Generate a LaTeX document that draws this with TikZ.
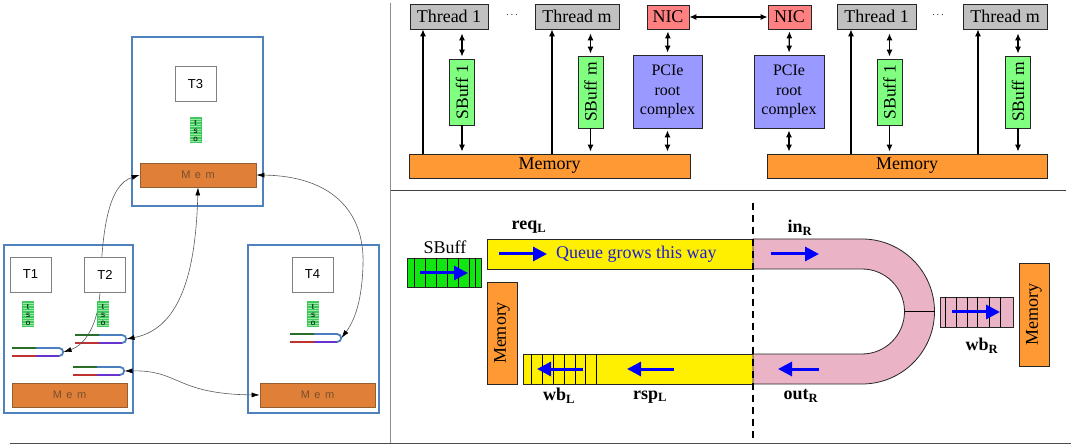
\documentclass[tikz,border=0pt]{standalone}
\usepackage{fontspec}
\setmainfont{Liberation Serif}
\newfontfamily\lsans{Liberation Sans}
\usetikzlibrary{arrows.meta}

% palette
\definecolor{thgray}{RGB}{192,192,192}
\definecolor{nicred}{RGB}{255,128,128}
\definecolor{pciblue}{RGB}{153,153,255}
\definecolor{sbgreen}{RGB}{128,255,128}
\definecolor{memorange}{RGB}{255,153,51}
\definecolor{qyellow}{RGB}{255,240,0}
\definecolor{qpink}{RGB}{234,179,198}
\definecolor{sbbright}{RGB}{17,230,17}
\definecolor{qblue}{RGB}{0,0,255}
\definecolor{qtext}{RGB}{30,30,215}
\definecolor{cpuframe}{RGB}{79,129,189}
\definecolor{tbox}{RGB}{128,128,128}
\definecolor{memfill}{RGB}{224,128,56}
\definecolor{memedge}{RGB}{150,95,50}
\definecolor{memtext}{RGB}{120,78,45}
\definecolor{tsogreen}{RGB}{64,200,96}
\definecolor{tsostripe}{RGB}{150,235,160}
\definecolor{ugreen}{RGB}{40,110,40}
\definecolor{ured}{RGB}{190,50,50}
\definecolor{ublue}{RGB}{74,126,192}
\definecolor{upurple}{RGB}{102,51,204}
\definecolor{wire}{RGB}{90,90,90}

\tikzset{
  box/.style={draw=black!85, line width=0.8pt, inner sep=0pt, font=\fontsize{18}{21}\selectfont},
  thread/.style={box, fill=thgray, minimum height=25pt},
  nic/.style={box, fill=nicred, minimum height=24pt, minimum width=42pt},
  pcie/.style={box, fill=pciblue, minimum width=69pt, minimum height=73pt, align=center, font=\fontsize{16}{19.5}\selectfont},
  sbuf/.style={box, fill=sbgreen, minimum width=25pt, font=\fontsize{17.5}{20}\selectfont},
  mem/.style={box, fill=memorange, minimum height=24pt},
  vmem/.style={box, fill=memorange, minimum width=30pt},
  arr/.style={line width=1.2pt, -{Latex[length=7pt,width=6pt]}},
  darr/.style={line width=1.2pt, {Latex[length=7pt,width=6pt]}-{Latex[length=7pt,width=6pt]}},
  qarrow/.style={qblue, line width=3pt, -{Triangle[length=14pt,width=14pt]}},
  qbar/.style={draw=black!85, line width=0.8pt},
  qlabel/.style={font=\fontsize{18}{21}\selectfont\bfseries, inner sep=0pt},
  cpu/.style={draw=cpuframe, line width=1.5pt},
  tcore/.style={draw=tbox, fill=white, line width=0.8pt, minimum width=41pt, minimum height=35pt, inner sep=0pt, font=\lsans\fontsize{13}{15}\selectfont},
  lmem/.style={draw=memedge, fill=memfill, line width=0.8pt, minimum height=24pt, inner sep=0pt, text=memtext, font=\lsans\fontsize{11}{12}\selectfont},
  link/.style={wire, line width=0.6pt, {Latex[length=8pt,width=5pt,color=black]}-{Latex[length=8pt,width=5pt,color=black]}},
  tsoletter/.style={font=\lsans\fontsize{8}{9}\selectfont, inner sep=0pt},
  ubuf/.pic={
    \draw[ugreen, line width=1.8pt] (0,0) -- (24,0);
    \draw[ured, line width=1.8pt] (0,8) -- (24,8);
    \draw[upurple, line width=1.8pt] (24,8) -- (47,8);
    \draw[ublue, line width=1.8pt] (24,0) -- (47,0) .. controls (52.5,0) and (52.5,8) .. (47,8);
    \coordinate (-tip) at (51.5,4);
  },
  tso/.pic={
    \fill[tsogreen] (0,0) rectangle (12,26);
    \foreach \s in {2,4.5,...,24.5} \draw[tsostripe, line width=0.4pt] (0.5,\s) -- (11.5,\s);
    \node[tsoletter] at (6,5.5) {t};
    \node[tsoletter] at (6,14) {s};
    \node[tsoletter] at (6,22.5) {o};
  }
}
\newcommand{\memword}{M\hspace{4.5pt}e\hspace{4.5pt}m}

\begin{document}
\begin{tikzpicture}[x=1pt, y=-1pt]
\useasboundingbox (0,0) rectangle (1071,446);

% ---------- panel separators ----------
\draw[gray!90, line width=1.2pt] (390.5,3) -- (390.5,444);
\draw[black!75, line width=1pt] (390.5,190.5) -- (1066,190.5);
\draw[black!70, line width=1.6pt] (10,443.5) -- (1071,443.5);

% ---------- left: cores, store buffers and memories ----------
\draw[cpu] (132,37) rectangle (263,206);
\draw[cpu] (4,245) rectangle (133,413);
\draw[cpu] (248,245) rectangle (379,413);

\node[lmem, minimum width=116pt] (m3) at (198,175) {\memword};
\node[lmem, minimum width=115pt] (m12) at (69.5,395) {\memword};
\node[lmem, minimum width=115pt] (m4) at (317.5,395) {\memword};

\pic (u2) at (75,335) {ubuf};
\pic (u1) at (12,348) {ubuf};
\pic (u0) at (73,367) {ubuf};
\pic (u4) at (290,334) {ubuf};

% links between buffers and memories
\draw[link] (u1-tip) .. controls (85,345) and (98,325) .. (100,292)
                     .. controls (102,230) and (108,185) .. (m3.west);
\draw[link] (u2-tip) .. controls (185,328) and (196,260) .. (m3.south);
\draw[link] (u4-tip) .. controls (355,320) and (362,300) .. (363,265)
                     .. controls (365,210) and (330,176) .. (m3.east);
\draw[link] (u0-tip) .. controls (180,370) and (175,394) .. (m4.west);

\node[tcore] (t3) at (195.5,84) {T3};
\node[tcore] (t1) at (30.5,274.5) {T1};
\node[tcore] (t2) at (105,274.5) {T2};
\node[tcore] (t4) at (312.5,274.5) {T4};

\pic at (189.5,117) {tso};
\pic at (22,301) {tso};
\pic at (97,301) {tso};
\pic at (307,301) {tso};

% ---------- top right: two hosts linked through their NICs ----------
\node[thread, minimum width=78pt] (thL1) at (449,16.5) {Thread 1};
\node[font=\fontsize{10}{12}\selectfont] (dotsL) at (512,15) {$\cdots$};
\node[thread, minimum width=84pt] (thLm) at (577,16.5) {Thread m};
\node[nic] (nicL) at (668,17) {NIC};
\node[nic, minimum width=43pt] (nicR) at (789.5,17) {NIC};
\node[thread, minimum width=79pt] (thR1) at (876.5,16.5) {Thread 1};
\node[font=\fontsize{10}{12}\selectfont] (dotsR) at (938,15) {$\cdots$};
\node[thread, minimum width=84pt] (thRm) at (1005,16.5) {Thread m};

\node[sbuf, minimum height=66pt] (sbL1) at (462,92) {\rotatebox{90}{SBuff 1}};
\node[sbuf, minimum height=72pt] (sbLm) at (590.5,92) {\rotatebox{90}{SBuff m}};
\node[sbuf, minimum height=66pt] (sbR1) at (889.5,92) {\rotatebox{90}{SBuff 1}};
\node[sbuf, minimum height=72pt] (sbRm) at (1018,92) {\rotatebox{90}{SBuff m}};

\node[pcie] (pcieL) at (667.5,91.5) {PCIe\\root\\complex};
\node[pcie, minimum width=70pt] (pcieR) at (789,91.5) {PCIe\\root\\complex};

\node[mem, minimum width=281pt] (memL) at (549.5,166) {Memory};
\node[mem, minimum width=280pt] (memR) at (907,166) {Memory};

\coordinate (ta1) at (423,0);
\coordinate (ta2) at (552,0);
\coordinate (ta3) at (851,0);
\coordinate (ta4) at (978,0);

\draw[arr] (memL.north -| ta1) -- (thL1.south -| ta1);
\draw[arr] (memL.north -| ta2) -- (thLm.south -| ta2);
\draw[arr] (memR.north -| ta3) -- (thR1.south -| ta3);
\draw[arr] (memR.north -| ta4) -- (thRm.south -| ta4);

\draw[darr, shorten <=4pt, shorten >=2pt] (thL1.south -| sbL1.north) -- (sbL1.north);
\draw[darr, shorten <=4pt, shorten >=2pt] (thLm.south -| sbLm.north) -- (sbLm.north);
\draw[darr, shorten <=4pt, shorten >=2pt] (thR1.south -| sbR1.north) -- (sbR1.north);
\draw[darr, shorten <=4pt, shorten >=2pt] (thRm.south -| sbRm.north) -- (sbRm.north);

\draw[arr, shorten >=2pt] (sbL1.south) -- (memL.north -| sbL1.south);
\draw[arr, shorten >=2pt] (sbLm.south) -- (memL.north -| sbLm.south);
\draw[arr, shorten >=2pt] (sbR1.south) -- (memR.north -| sbR1.south);
\draw[arr, shorten >=2pt] (sbRm.south) -- (memR.north -| sbRm.south);

\draw[darr, shorten <=2pt, shorten >=2pt] (nicL.south) -- (pcieL.north);
\draw[darr, shorten <=2pt, shorten >=2pt] (pcieL.south) -- (memL.north -| pcieL.south);
\draw[darr, shorten <=2pt, shorten >=2pt] (nicR.south) -- (pcieR.north);
\draw[darr, shorten <=2pt, shorten >=2pt] (pcieR.south) -- (memR.north -| pcieR.south);
\draw[darr] (nicL.east) -- (nicR.west);

% ---------- bottom right: queues across the link ----------
% store buffer
\node[font=\fontsize{18}{21}\selectfont, inner sep=0pt] (sbname) at (445,247) {SBuff};
\draw[qbar, fill=sbbright] (407,258) rectangle (481,287);
\foreach \x in {414,425,436,447,458,469,475} \draw[line width=0.8pt] (\x,258) -- (\x,287);
\draw[qarrow] (420,273) -- (468,273);

% local request and response queues
\draw[qbar, fill=qyellow] (487,239) rectangle (753,269);
\draw[qbar, fill=qyellow] (523,354) rectangle (753,384);
\foreach \x in {531,542,553,564,575,585,596} \draw[line width=0.8pt] (\x,354) -- (\x,384);

% remote queue bending round
\draw[qbar, fill=qpink] (753,239) -- (862,239) arc[start angle=-90, end angle=90, radius=72.5]
  -- (753,384) -- (753,354) -- (862,354) arc[start angle=90, end angle=-90, radius=42.5]
  -- (753,269) -- cycle;
\draw[line width=0.8pt] (904.5,311.5) -- (934.5,311.5);

% remote write-back buffer
\draw[qbar, fill=qpink] (940,297) rectangle (1013,327);
\foreach \x in {945,956,967,977,989,1000} \draw[line width=0.8pt] (\x,297) -- (\x,327);

\node[vmem, minimum height=102pt] (vmemL) at (502,333) {\rotatebox{90}{Memory}};
\node[vmem, minimum height=103pt] (vmemR) at (1034,314.5) {\rotatebox{90}{Memory}};

\draw[qarrow] (499,254) -- (547,254);
\node[anchor=base west, inner sep=0pt, text=qtext, font=\fontsize{18}{21}\selectfont] (grow) at (556,259) {Queue grows this way};
\draw[qarrow] (771,254) -- (819,254);
\draw[qarrow] (819,369) -- (778,369);
\draw[qarrow] (674,369) -- (627,369);
\draw[qarrow] (583,369) -- (537,369);
\draw[qarrow] (952,312) -- (1000,312);

\draw[black, line width=1.8pt, dash pattern=on 7pt off 5pt] (753,203) -- (753,442);

\node[qlabel] (reqL) at (529,227) {req$_{\mathbf{L}}$};
\node[qlabel] (wbL) at (559,396) {wb$_{\mathbf{L}}$};
\node[qlabel] (rspL) at (650,397) {rsp$_{\mathbf{L}}$};
\node[qlabel] (inR) at (800,228) {in$_{\mathbf{R}}$};
\node[qlabel] (outR) at (801,396) {out$_{\mathbf{R}}$};
\node[qlabel] (wbR) at (982,346) {wb$_{\mathbf{R}}$};
\end{tikzpicture}
\end{document}
